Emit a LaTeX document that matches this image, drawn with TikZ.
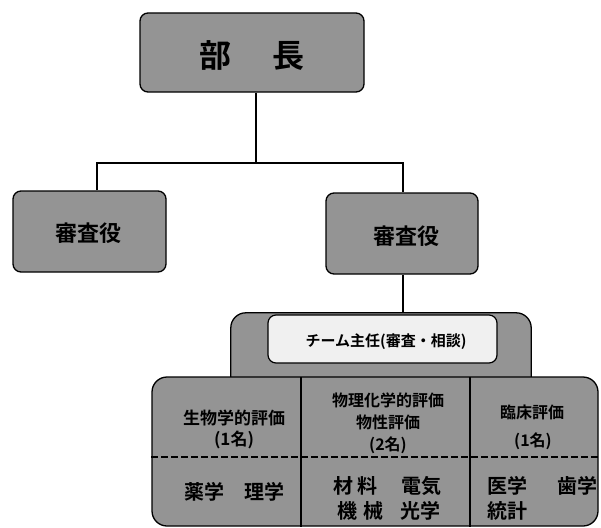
\documentclass[tikz,border=0pt]{standalone}
\usepackage{fontspec}
\newfontfamily\jp{Noto Sans CJK JP}[BoldFont={Noto Sans CJK JP Bold}]
\begin{document}
\begin{tikzpicture}[x=1pt,y=-1pt,
  box/.style={draw=black, line width=1.3pt, fill=black!42, rounded corners=8pt, inner sep=0pt},
  conn/.style={line width=1.5pt},
  lab/.style={inner sep=0pt, text=black},
  fa/.style={font=\jp\bfseries\fontsize{32}{32}\selectfont},
  fb/.style={font=\jp\bfseries\fontsize{22}{22}\selectfont},
  fc/.style={font=\jp\bfseries\fontsize{17}{17}\selectfont},
  fd/.style={font=\jp\bfseries\fontsize{16}{16}\selectfont},
  fe/.style={font=\jp\bfseries\fontsize{20}{20}\selectfont},
  ft/.style={font=\jp\bfseries\fontsize{15}{15}\selectfont}]
\useasboundingbox (0,0) rectangle (601,527);

% top boxes
\node[box, minimum width=224pt, minimum height=79pt] (bucho) at (252,52.5) {};
\node[lab, fa] (buchot) at (252,55) {部\hspace{1.3em}長};
\node[box, minimum width=153pt, minimum height=81pt] (left) at (89.5,231.5) {};
\node[lab, fb] (leftt) at (88,233) {審査役};
\node[box, minimum width=152pt, minimum height=81pt] (right) at (402,233.5) {};
\node[lab, fb] (rightt) at (406,236) {審査役};

% connectors
\coordinate (j) at (256,163);
\coordinate (jl) at (97,163);
\coordinate (jr) at (403,163);
\draw[conn] (bucho.south -| j) -- (j);
\draw[conn] (jl |- left.north) -- (jl) -- (jr) -- (jr |- right.north);

% team box
\node[minimum width=300pt, minimum height=64pt, inner sep=0pt] (team) at (381,345) {};
\draw[line width=1.3pt, fill=black!42, rounded corners=15pt]
  (team.south west) -- (team.north west) -- (team.north east) -- (team.south east);
\draw[conn] (right.south -| jr) -- (jr |- team.north);
\node[draw=black, line width=1.2pt, fill=black!6, rounded corners=8pt,
  minimum width=229pt, minimum height=48pt, inner sep=0pt] (inner) at (382.5,339) {};
\node[lab, ft] (innert) at (386,342) {チーム主任(審査・相談)};

% big box
\node[box, rounded corners=15pt, minimum width=446pt, minimum height=149pt] (big) at (375,451.5) {};
\coordinate (d1) at (301,377);
\coordinate (d2) at (470,377);
\coordinate (dl) at (152,457);
\draw[conn, line width=1.3pt] (d1) -- (d1 |- big.south);
\draw[conn, line width=1.3pt] (d2) -- (d2 |- big.south);
\draw[line width=1.3pt, dash pattern=on 7pt off 3pt] (big.west |- dl) -- (big.east |- dl);

% column 1
\node[lab, fc] (c1a) at (234,418) {生物学的評価};
\node[lab, fc] (c1b) at (234,440) {(1名)};
\node[lab, fe] (c1c) at (234,492) {薬学\hspace{1em}理学};
% column 2
\node[lab, fd] (c2a) at (388,400) {物理化学的評価};
\node[lab, fd] (c2b) at (388,422) {物性評価};
\node[lab, fd] (c2c) at (388,445) {(2名)};
\node[lab, fe, anchor=west] (c2d) at (333,486) {材\hspace{0.2em}料\hspace{1.2em}電気};
\node[lab, fe, anchor=west] (c2e) at (337,511) {機\hspace{0.3em}械\hspace{0.85em}光学};
% column 3
\node[lab, fd] (c3a) at (532,412) {臨床評価};
\node[lab, fd] (c3b) at (533,441) {(1名)};
\node[lab, fe, anchor=west] (c3c) at (487,486) {医学\hspace{1.5em}歯学};
\node[lab, fe, anchor=west] (c3d) at (487,511) {統計};
\end{tikzpicture}
\end{document}
